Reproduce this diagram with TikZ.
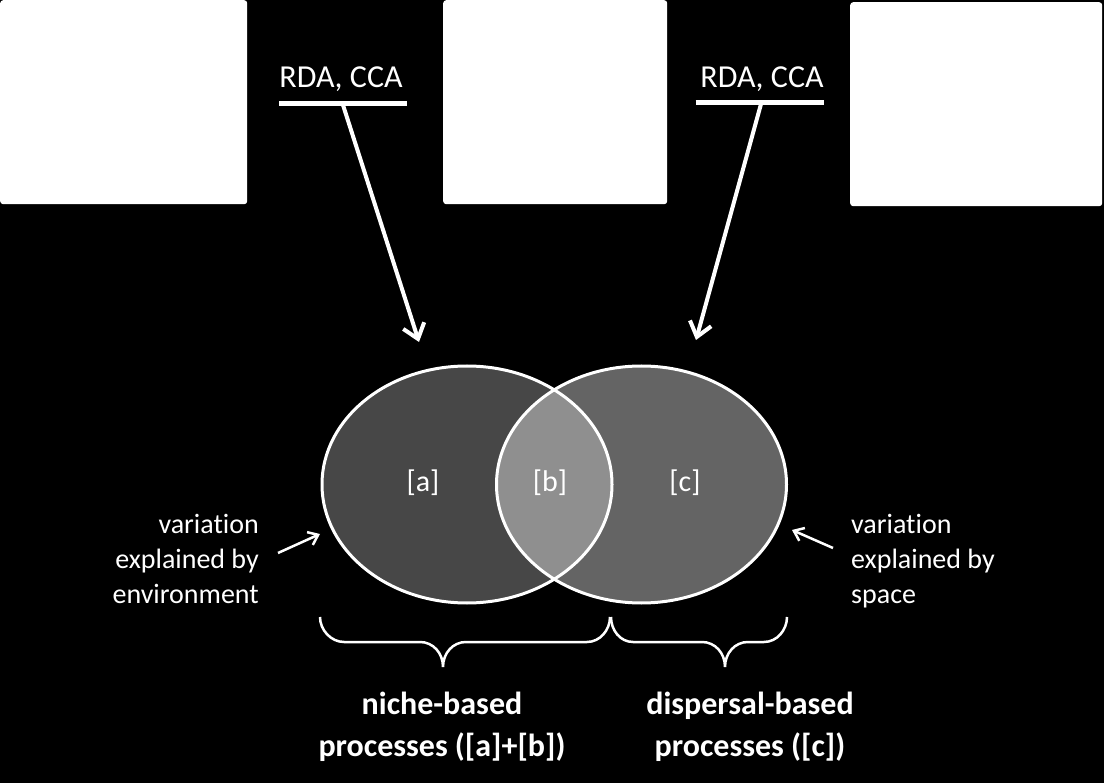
\documentclass[tikz,border=0pt]{standalone}
\usepackage{fontspec}
\setmainfont{Carlito}[Ligatures=NoCommon]
\usetikzlibrary{arrows.meta,shapes.geometric}
\definecolor{ga}{HTML}{474747}
\definecolor{gc}{HTML}{646464}
\definecolor{gb}{HTML}{8F8F8F}
\begin{document}
\begin{tikzpicture}[x=1pt,y=-1pt,
  photo/.style={fill=white, rounded corners=3pt, inner sep=0pt, anchor=north west},
  rdalab/.style={text=white, font=\fontsize{32}{38}\selectfont, inner sep=0pt, anchor=base},
  uline/.style={white, line width=4.5pt},
  bigarrow/.style={white, line width=4pt, -{Straight Barb[length=14pt,width=22pt]}},
  smallarrow/.style={white, line width=2.5pt, -{Straight Barb[length=9pt,width=14pt]}},
  venn/.style={draw=white, line width=3pt, ellipse, inner sep=0pt, minimum width=290pt, minimum height=237pt},
  setlab/.style={text=white, font=\fontsize{30}{36}\selectfont, inner sep=0pt},
  sidetext/.style={text=white, font=\fontsize{28}{35}\selectfont, inner sep=0pt},
  bracestyle/.style={white, line width=2.5pt},
  proclab/.style={text=white, font=\bfseries\fontsize{32}{42}\selectfont, align=center, inner sep=0pt}
]
\fill[black] (0,0) rectangle (1104,783);
\useasboundingbox (0,0) rectangle (1104,783);

% white picture boxes
\node[photo, minimum width=247pt, minimum height=204pt] (p1) at (0,0) {};
\node[photo, minimum width=224pt, minimum height=204pt] (p2) at (443,0) {};
\node[photo, minimum width=252pt, minimum height=204pt] (p3) at (850,2) {};

% RDA, CCA labels
\node[rdalab] (r1) at (341,88) {RDA, CCA};
\node[rdalab] (r2) at (762,88) {RDA, CCA};
\draw[uline] (279,103.5) -- (407,103.5);
\draw[uline] (695.5,102.5) -- (824,102.5);
\coordinate (s1) at (343,105);
\coordinate (e1) at (419,342);
\coordinate (s2) at (761,104);
\coordinate (e2) at (696,340);
\draw[bigarrow] (s1) -- (e1);
\draw[bigarrow] (s2) -- (e2);

% Venn fills
\fill[ga] (467,484.5) ellipse [x radius=145pt, y radius=118.5pt];
\fill[gc] (641.5,484.5) ellipse [x radius=145pt, y radius=118.5pt];
\begin{scope}
  \clip (467,484.5) ellipse [x radius=145pt, y radius=118.5pt];
  \fill[gb] (641.5,484.5) ellipse [x radius=145pt, y radius=118.5pt];
\end{scope}
\node[venn] (A) at (467,484.5) {};
\node[venn] (C) at (641.5,484.5) {};

\node[setlab] (la) at (423,483) {[a]};
\node[setlab] (lb) at (550,483) {[b]};
\node[setlab] (lc) at (685,483) {[c]};

% side texts
\node[sidetext, align=right, anchor=east] (envtext) at (259,559) {variation\\explained by\\environment};
\node[sidetext, align=left, anchor=west] (spacetext) at (851,561) {variation\\explained by\\space};
\coordinate (ea) at (320,534);
\coordinate (sa) at (792,530);
\draw[smallarrow] (envtext.east) ++(19,-6) coordinate (et) (et) -- (ea);
\draw[smallarrow] (spacetext.west) ++(-18,-13) coordinate (st) (st) -- (sa);

% braces
\draw[bracestyle] (320,617) .. controls (320,630) and (331,642) .. (344,642) -- (420,642)
  .. controls (433,642) and (443,653) .. (443,667)
  .. controls (443,653) and (453,642) .. (466,642) -- (587,642)
  .. controls (600,642) and (610,630) .. (610,617);
\draw[bracestyle] (611,617) .. controls (611,630) and (620,642) .. (633,642) -- (702,642)
  .. controls (715,642) and (725,653) .. (725,667)
  .. controls (725,653) and (735,642) .. (748,642) -- (764,642)
  .. controls (777,642) and (787,630) .. (787,617);

% process labels
\node[proclab] (niche) at (442,727) {niche-based\\processes ([a]+[b])};
\node[proclab] (disp) at (750,727) {dispersal-based\\processes ([c])};
\end{tikzpicture}
\end{document}
